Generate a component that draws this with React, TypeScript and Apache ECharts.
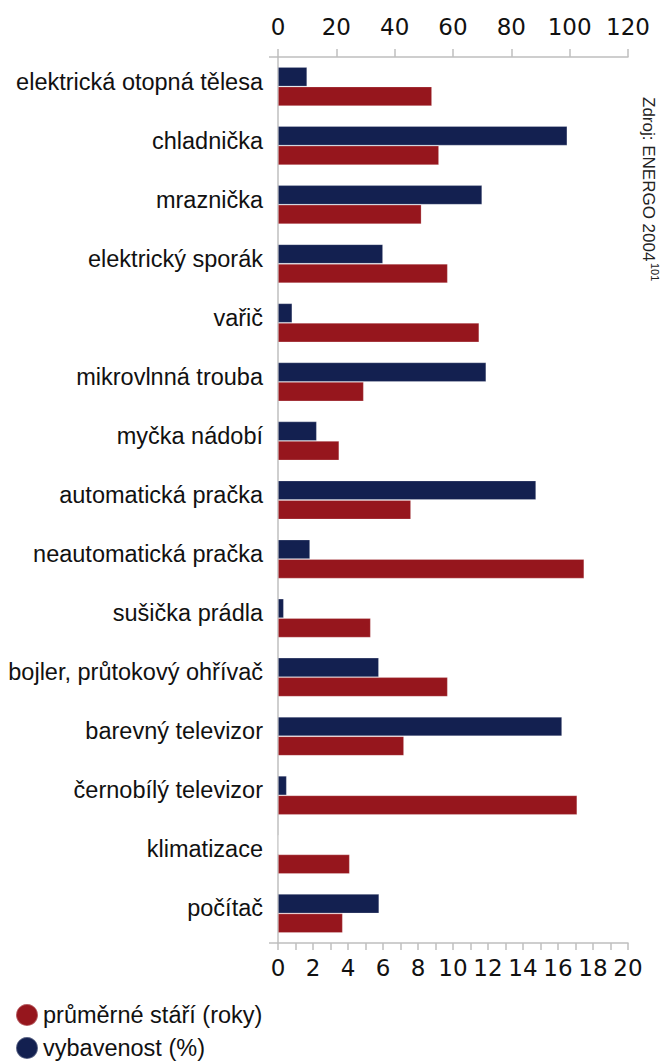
import React, { useEffect, useRef } from "react";
import * as echarts from "echarts";

const categories = [
  "elektrická otopná tělesa",
  "chladnička",
  "mraznička",
  "elektrický sporák",
  "vařič",
  "mikrovlnná trouba",
  "myčka nádobí",
  "automatická pračka",
  "neautomatická pračka",
  "sušička prádla",
  "bojler, průtokový ohřívač",
  "barevný televizor",
  "černobílý televizor",
  "klimatizace",
  "počítač",
];

// vybavenost (%) – top axis 0–120
const vybavenost = [10, 99.2, 70, 36, 4.9, 71.4, 13.3, 88.5, 11, 2, 34.6, 97.4, 3, 0.2, 34.7];
// průměrné stáří (roky) – bottom axis 0–20
const stari = [8.8, 9.2, 8.2, 9.7, 11.5, 4.9, 3.5, 7.6, 17.5, 5.3, 9.7, 7.2, 17.1, 4.1, 3.7];

const seriesNames = ["průměrné stáří (roky)", "vybavenost (%)"];
const sourceText = "Zdroj: ENERGO 2004";
const sourceSup = "101";

const BLUE = "#132050";
const RED = "#96161d";
const AXIS = "#bfbfbf";
const NUM_FONT = "DejaVu Sans";
const TXT_FONT = "Liberation Sans";

export default function App() {
  const ref = useRef<HTMLDivElement>(null);
  useEffect(() => {
    document.body.style.margin = "0";
    if (!ref.current) return;
    const chart = echarts.init(ref.current, null, { renderer: "svg" });
    chart.setOption({
      animation: false,
      backgroundColor: "#ffffff",
      grid: { left: 278, right: 34, top: 57, bottom: 119, containLabel: false },
      legend: {
        orient: "vertical",
        left: 15,
        top: 1003,
        padding: 0,
        itemGap: 9,
        itemWidth: 22,
        itemHeight: 22,
        icon: "circle",
        data: seriesNames,
        textStyle: { fontFamily: TXT_FONT, fontSize: 23.5, color: "#111" },
      },
      yAxis: {
        type: "category",
        data: categories,
        inverse: true,
        axisLine: { show: true, lineStyle: { color: AXIS, width: 1.5 } },
        axisTick: { show: false },
        splitLine: { show: false },
        axisLabel: {
          margin: 15,
          fontFamily: TXT_FONT,
          fontSize: 23.5,
          color: "#111",
          verticalAlign: "bottom",
          lineHeight: 10,
        },
      },
      xAxis: [
        {
          type: "value",
          position: "top",
          min: 0,
          max: 120,
          interval: 20,
          axisLine: { show: true, lineStyle: { color: AXIS, width: 1.5 } },
          axisTick: { show: true, length: 8, lineStyle: { color: AXIS, width: 1.5 } },
          splitLine: { show: false },
          axisLabel: { margin: 19, fontFamily: NUM_FONT, fontSize: 23, color: "#111" },
        },
        {
          type: "value",
          position: "bottom",
          min: 0,
          max: 20,
          interval: 2,
          axisLine: { show: true, lineStyle: { color: AXIS, width: 1.5 } },
          axisTick: { show: true, length: 7, lineStyle: { color: AXIS, width: 1.5 } },
          minorTick: { show: true, splitNumber: 2, length: 7, lineStyle: { color: AXIS, width: 1.5 } },
          splitLine: { show: false },
          minorSplitLine: { show: false },
          axisLabel: { margin: 13, fontFamily: NUM_FONT, fontSize: 23, color: "#111" },
        },
      ],
      series: [
        {
          name: seriesNames[1],
          type: "bar",
          xAxisIndex: 0,
          yAxisIndex: 0,
          data: vybavenost,
          barGap: "0%",
          barCategoryGap: "34%",
          itemStyle: { color: BLUE, borderColor: "rgba(255,255,255,0.3)", borderWidth: 0.8 },
        },
        {
          name: seriesNames[0],
          type: "bar",
          xAxisIndex: 1,
          yAxisIndex: 0,
          data: stari,
          barGap: "0%",
          barCategoryGap: "34%",
          itemStyle: { color: RED, borderColor: "rgba(255,255,255,0.3)", borderWidth: 0.8 },
        },
      ],
      graphic: [
        {
          type: "line",
          shape: { x1: 269, y1: 57, x2: 278, y2: 57 },
          style: { stroke: AXIS, lineWidth: 1.5 },
        },
        {
          type: "line",
          shape: { x1: 269, y1: 943, x2: 278, y2: 943 },
          style: { stroke: AXIS, lineWidth: 1.5 },
        },
        {
          type: "group",
          x: 657,
          y: 97,
          rotation: -Math.PI / 2,
          children: [
            {
              type: "text",
              x: 0,
              y: 0,
              style: { text: sourceText, font: `17px ${TXT_FONT}`, fill: "#222", textVerticalAlign: "top" },
            },
            {
              type: "text",
              x: 166,
              y: -3,
              style: { text: sourceSup, font: `11px ${TXT_FONT}`, fill: "#222", textVerticalAlign: "top" },
            },
          ],
        },
      ],
    });
    return () => chart.dispose();
  }, []);
  return <div ref={ref} style={{ width: 662, height: 1062 }} />;
}
